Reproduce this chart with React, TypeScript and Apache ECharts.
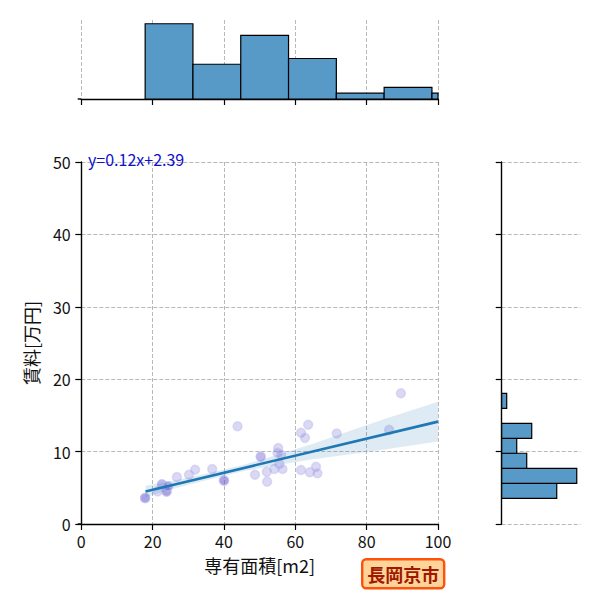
import { useEffect, useRef } from "react";
import * as echarts from "echarts";

// 専有面積 [m2] and 賃料 [万円] for each listing
const area = [
  17.9, 17.9, 17.9, 21.4, 22.6, 22.6, 23.9, 23.9, 23.9, 24.3, 24.3, 26.8, 30.2,
  31.9, 36.7, 40.0, 40.0, 40.0, 43.8,
  48.7, 50.3, 50.3, 52.0, 52.1, 54.1, 55.2, 55.0, 56.0, 55.5, 56.4,
  61.6, 63.6, 62.7, 61.6, 64.1, 65.8, 66.2,
  71.6, 86.3, 89.6, 105.0,
];
const rent = [
  3.6, 3.6, 3.6, 4.5, 5.5, 5.5, 4.5, 4.5, 4.5, 5.2, 5.2, 6.5, 6.8,
  7.5, 7.6, 6.0, 6.0, 6.0, 13.5,
  6.8, 9.3, 9.3, 7.2, 5.85, 7.6, 10.5, 9.85, 9.6, 8.3, 7.6,
  12.6, 13.7, 11.9, 7.45, 7.15, 7.9, 7.0,
  12.5, 13.0, 18.05, 11.0,
];

// regression line end points and confidence band
const fitX = [18, 100];
const fitY = [4.5, 14.14];
const bandX = [18, 25, 35, 45, 55, 65, 75, 85, 100];
const bandLow = [3.7, 4.75, 6.05, 7.25, 8.15, 8.95, 9.6, 10.3, 11.4];
const bandHigh = [5.3, 5.9, 6.95, 8.1, 9.55, 11.1, 12.8, 14.5, 16.9];

// marginal histograms
const xBinEdges = [17.9, 31.3, 44.7, 58.1, 71.5, 84.9, 98.3, 111.7];
const xBinCounts = [13, 6, 11, 7, 1, 2, 1];
const yBinEdges = [3.55, 5.62, 7.69, 9.77, 11.84, 13.9, 15.98, 18.05];
const yBinCounts = [11, 15, 5, 3, 6, 0, 1];

const equation = "y=0.12x+2.39";
const cityName = "長岡京市";
const xLabel = "専有面積[m2]";
const yLabel = "賃料[万円]";

const FONT = '"Noto Sans CJK JP", "Noto Sans", sans-serif';
const BAR = "#5799c7";
const INK = "#111111";
const GRIDLINE = { color: "#b0b0b0", type: [4, 2] as number[], width: 0.9 };

const MAIN = { left: 81.3, top: 162, width: 356.7, height: 362 };
const TOP = { left: 81.3, top: 20, width: 356.7, height: 79 };
const SIDE = { left: 501.7, top: 162, width: 78.8, height: 362 };
const SPINE_OFFSET = 3.6;

export default function App() {
  const chartRef = useRef<HTMLDivElement>(null);

  useEffect(() => {
    document.body.style.margin = "0";
    const chart = echarts.init(chartRef.current, null, { renderer: "svg" });

    const points = area.map((a, i) => [a, rent[i]]);
    const xBins = xBinCounts.map((c, i) => [xBinEdges[i], xBinEdges[i + 1], c]);
    const yBins = yBinCounts.map((c, i) => [yBinEdges[i], yBinEdges[i + 1], c]);

    const tickStyle = { show: true, length: 6, lineStyle: { color: "#000", width: 1.2 } };
    const lineStyle = { show: true, lineStyle: { color: "#000", width: 1.4 } };

    const histRect = (fill: string) => (params: any, api: any, horizontal: boolean) => {
      const c = api.value(2);
      if (!c) return null;
      const p0 = horizontal ? api.coord([0, api.value(1)]) : api.coord([api.value(0), c]);
      const p1 = horizontal ? api.coord([c, api.value(0)]) : api.coord([api.value(1), 0]);
      const rect = echarts.graphic.clipRectByRect(
        { x: p0[0], y: p0[1], width: p1[0] - p0[0], height: p1[1] - p0[1] },
        params.coordSys
      );
      if (!rect) return null;
      return { type: "rect", shape: rect, style: { fill, stroke: "#000", lineWidth: 1.2 } };
    };
    const barItem = histRect(BAR);

    const option = {
      animation: false,
      textStyle: { fontFamily: FONT },
      grid: [
        { ...MAIN, containLabel: false },
        { ...TOP, containLabel: false },
        { ...SIDE, containLabel: false },
      ],
      xAxis: [
        {
          gridIndex: 0, type: "value", min: 0, max: 100, interval: 20,
          axisLine: lineStyle, axisTick: tickStyle,
          axisLabel: { fontSize: 16, color: INK, margin: 9, fontFamily: FONT },
          splitLine: { show: true, lineStyle: GRIDLINE },
          name: xLabel, nameLocation: "middle", nameGap: 32,
          nameTextStyle: { fontSize: 18, color: INK, fontFamily: FONT },
        },
        {
          gridIndex: 1, type: "value", min: 0, max: 100, interval: 20,
          axisLine: lineStyle, axisTick: tickStyle,
          axisLabel: { show: false },
          splitLine: { show: true, lineStyle: GRIDLINE },
        },
        {
          gridIndex: 2, type: "value", min: 0, max: 15.75, show: false,
        },
      ],
      yAxis: [
        {
          gridIndex: 0, type: "value", min: 0, max: 50, interval: 10,
          offset: SPINE_OFFSET,
          axisLine: lineStyle, axisTick: tickStyle,
          axisLabel: { fontSize: 16, color: INK, margin: 7, fontFamily: FONT },
          splitLine: { show: true, lineStyle: GRIDLINE },
          name: yLabel, nameLocation: "middle", nameGap: 38, nameRotate: 90,
          nameTextStyle: { fontSize: 18, color: INK, fontFamily: FONT },
        },
        {
          gridIndex: 1, type: "value", min: 0, max: 13.65, show: false,
        },
        {
          gridIndex: 2, type: "value", min: 0, max: 50, interval: 10,
          axisLine: lineStyle, axisTick: tickStyle,
          axisLabel: { show: false },
          splitLine: { show: true, lineStyle: GRIDLINE },
        },
      ],
      graphic: [
        // spines run a little past x=0, as in the original
        {
          type: "line", silent: true,
          shape: { x1: MAIN.left - SPINE_OFFSET, y1: MAIN.top + MAIN.height, x2: MAIN.left, y2: MAIN.top + MAIN.height },
          style: { stroke: "#000", lineWidth: 1.4 },
        },
        {
          type: "line", silent: true,
          shape: { x1: TOP.left - SPINE_OFFSET, y1: TOP.top + TOP.height, x2: TOP.left, y2: TOP.top + TOP.height },
          style: { stroke: "#000", lineWidth: 1.4 },
        },
        {
          type: "text", left: 88, top: 151, z: 10,
          style: { text: equation, fill: "#1010c8", font: `16px ${FONT}` },
        },
        {
          type: "group", left: 361, top: 558,
          children: [
            {
              type: "rect",
              shape: { x: 0, y: 0, width: 82, height: 29, r: 4 },
              style: { fill: "#ffd49a", stroke: "#ff5208", lineWidth: 2.4 },
            },
            {
              type: "text", x: 41, y: 15,
              style: {
                text: cityName, fill: "#a01800", font: `bold 18px ${FONT}`,
                align: "center", verticalAlign: "middle",
              },
            },
          ],
        },
      ],
      series: [
        {
          type: "scatter", xAxisIndex: 0, yAxisIndex: 0, clip: true,
          data: points, symbolSize: 9, z: 2,
          itemStyle: {
            color: "rgba(106,90,205,0.3)",
            borderColor: "rgba(190,190,240,0.6)",
            borderWidth: 1.5,
          },
        },
        {
          type: "custom", xAxisIndex: 0, yAxisIndex: 0, z: 3,
          data: [[bandX[0], bandLow[0]]],
          renderItem: (_params: any, api: any) => {
            const upper = bandX.map((x, i) => api.coord([x, bandHigh[i]]));
            const lower = bandX.map((x, i) => api.coord([x, bandLow[i]])).reverse();
            return {
              type: "polygon",
              shape: { points: upper.concat(lower) },
              style: { fill: "rgba(31,119,180,0.15)" },
            };
          },
        },
        {
          type: "line", xAxisIndex: 0, yAxisIndex: 0, z: 4,
          data: fitX.map((x, i) => [x, fitY[i]]),
          showSymbol: false, symbol: "none",
          lineStyle: { color: "#1f77b4", width: 2.6 },
        },
        {
          type: "custom", xAxisIndex: 1, yAxisIndex: 1,
          data: xBins,
          renderItem: (params: any, api: any) => barItem(params, api, false),
        },
        {
          type: "custom", xAxisIndex: 2, yAxisIndex: 2,
          data: yBins,
          renderItem: (params: any, api: any) => barItem(params, api, true),
          encode: { x: 2, y: 0 },
        },
      ],
    };

    chart.setOption(option as any);
    return () => {
      chart.dispose();
    };
  }, []);

  return <div ref={chartRef} style={{ width: 600, height: 600 }}></div>;
}
